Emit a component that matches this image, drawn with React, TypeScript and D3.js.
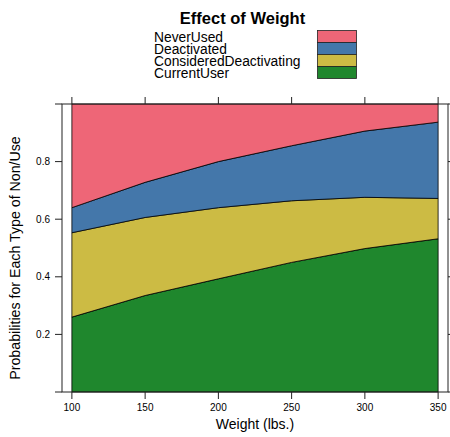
import { useEffect, useRef } from 'react'
import * as d3 from 'd3'

const weights = [100, 150, 200, 250, 300, 350]
const currentUser = [0.26, 0.335, 0.393, 0.45, 0.498, 0.532]
const consideredDeactivating = [0.293, 0.271, 0.247, 0.214, 0.178, 0.14]
const deactivated = [0.087, 0.122, 0.16, 0.191, 0.23, 0.265]
const neverUsed = [0.36, 0.272, 0.2, 0.145, 0.094, 0.063]

const keys = ['CurrentUser', 'ConsideredDeactivating', 'Deactivated', 'NeverUsed']
const colors = ['#1f872d', '#CCBB44', '#4477AA', '#EE6677']
const legendOrder = ['NeverUsed', 'Deactivated', 'ConsideredDeactivating', 'CurrentUser']
const xTicks = [100, 150, 200, 250, 300, 350]
const yTicks = [0, 0.2, 0.4, 0.6, 0.8, 1]
const yLabels = [0.2, 0.4, 0.6, 0.8]

const FONT = 'Liberation Sans, Arial, Helvetica, sans-serif'

export default function App() {
  const svgRef = useRef<SVGSVGElement>(null)
  const width = 450
  const height = 437

  useEffect(() => {
    if (!svgRef.current) return
    const svg = d3.select(svgRef.current)
    svg.selectAll('*').remove()

    const left = 62, right = 448, top = 104, bottom = 392
    const pad = (350 - 100) * 0.027
    const x = d3.scaleLinear().domain([100 - pad, 350 + pad]).range([left, right])
    const y = d3.scaleLinear().domain([0, 1]).range([bottom, top])

    const rows = weights.map((w, i) => ({
      weight: w,
      CurrentUser: currentUser[i],
      ConsideredDeactivating: consideredDeactivating[i],
      Deactivated: deactivated[i],
      NeverUsed: neverUsed[i],
    }))
    const series = d3.stack<any>().keys(keys)(rows)

    const area = d3.area<any>()
      .x(d => x(d.data.weight))
      .y0(d => y(d[0]))
      .y1(d => y(Math.min(1, d[1])))

    svg.append('g')
      .selectAll('path')
      .data(series)
      .enter()
      .append('path')
      .attr('d', area)
      .attr('fill', (_, i) => colors[i])
      .attr('stroke', '#000')
      .attr('stroke-width', 0.8)
      .attr('stroke-linejoin', 'round')

    // panel box
    svg.append('rect')
      .attr('x', left).attr('y', top)
      .attr('width', right - left).attr('height', bottom - top)
      .attr('fill', 'none').attr('stroke', '#222').attr('stroke-width', 1)

    const tickLen = 7
    const ax = svg.append('g').attr('stroke', '#222').attr('stroke-width', 1)
    xTicks.forEach(t => {
      ax.append('line').attr('x1', x(t)).attr('x2', x(t)).attr('y1', bottom).attr('y2', bottom + tickLen)
      ax.append('line').attr('x1', x(t)).attr('x2', x(t)).attr('y1', top).attr('y2', top - tickLen)
    })
    yTicks.forEach(t => {
      ax.append('line').attr('x1', left - tickLen).attr('x2', left).attr('y1', y(t)).attr('y2', y(t))
      ax.append('line').attr('x1', right).attr('x2', right + tickLen).attr('y1', y(t)).attr('y2', y(t))
    })

    svg.append('g')
      .selectAll('text')
      .data(xTicks)
      .enter()
      .append('text')
      .attr('x', d => x(d))
      .attr('y', 411)
      .attr('text-anchor', 'middle')
      .attr('font-family', FONT)
      .attr('font-size', 10)
      .text(d => d)

    svg.append('g')
      .selectAll('text')
      .data(yLabels)
      .enter()
      .append('text')
      .attr('x', 50)
      .attr('y', d => y(d) + 3.5)
      .attr('text-anchor', 'end')
      .attr('font-family', FONT)
      .attr('font-size', 10)
      .text(d => d3.format('.1f')(d))

    svg.append('text')
      .attr('x', (x(100) + x(350)) / 2)
      .attr('y', 429)
      .attr('text-anchor', 'middle')
      .attr('font-family', FONT)
      .attr('font-size', 14)
      .text('Weight (lbs.)')

    svg.append('text')
      .attr('transform', `translate(20,${(top + bottom) / 2 + 10}) rotate(-90)`)
      .attr('text-anchor', 'middle')
      .attr('font-family', FONT)
      .attr('font-size', 14.2)
      .text('Probabilities for Each Type of Non/Use')

    svg.append('text')
      .attr('x', 242.5)
      .attr('y', 24)
      .attr('text-anchor', 'middle')
      .attr('font-family', FONT)
      .attr('font-size', 16.5)
      .attr('font-weight', 'bold')
      .text('Effect of Weight')

    // legend
    const lg = svg.append('g')
    legendOrder.forEach((k, i) => {
      const ci = keys.indexOf(k)
      lg.append('text')
        .attr('x', 154)
        .attr('y', 41.7 + i * 12)
        .attr('font-family', FONT)
        .attr('font-size', 13.8)
        .text(k)
      lg.append('rect')
        .attr('x', 317.5)
        .attr('y', 30.5 + i * 12)
        .attr('width', 39)
        .attr('height', 12)
        .attr('fill', colors[ci])
        .attr('stroke', '#222')
        .attr('stroke-width', 0.8)
    })
  }, [])

  return (
    <svg
      ref={svgRef}
      width={width}
      height={height}
      style={{ position: 'absolute', left: 0, top: 0, background: '#fff' }}
    />
  )
}
